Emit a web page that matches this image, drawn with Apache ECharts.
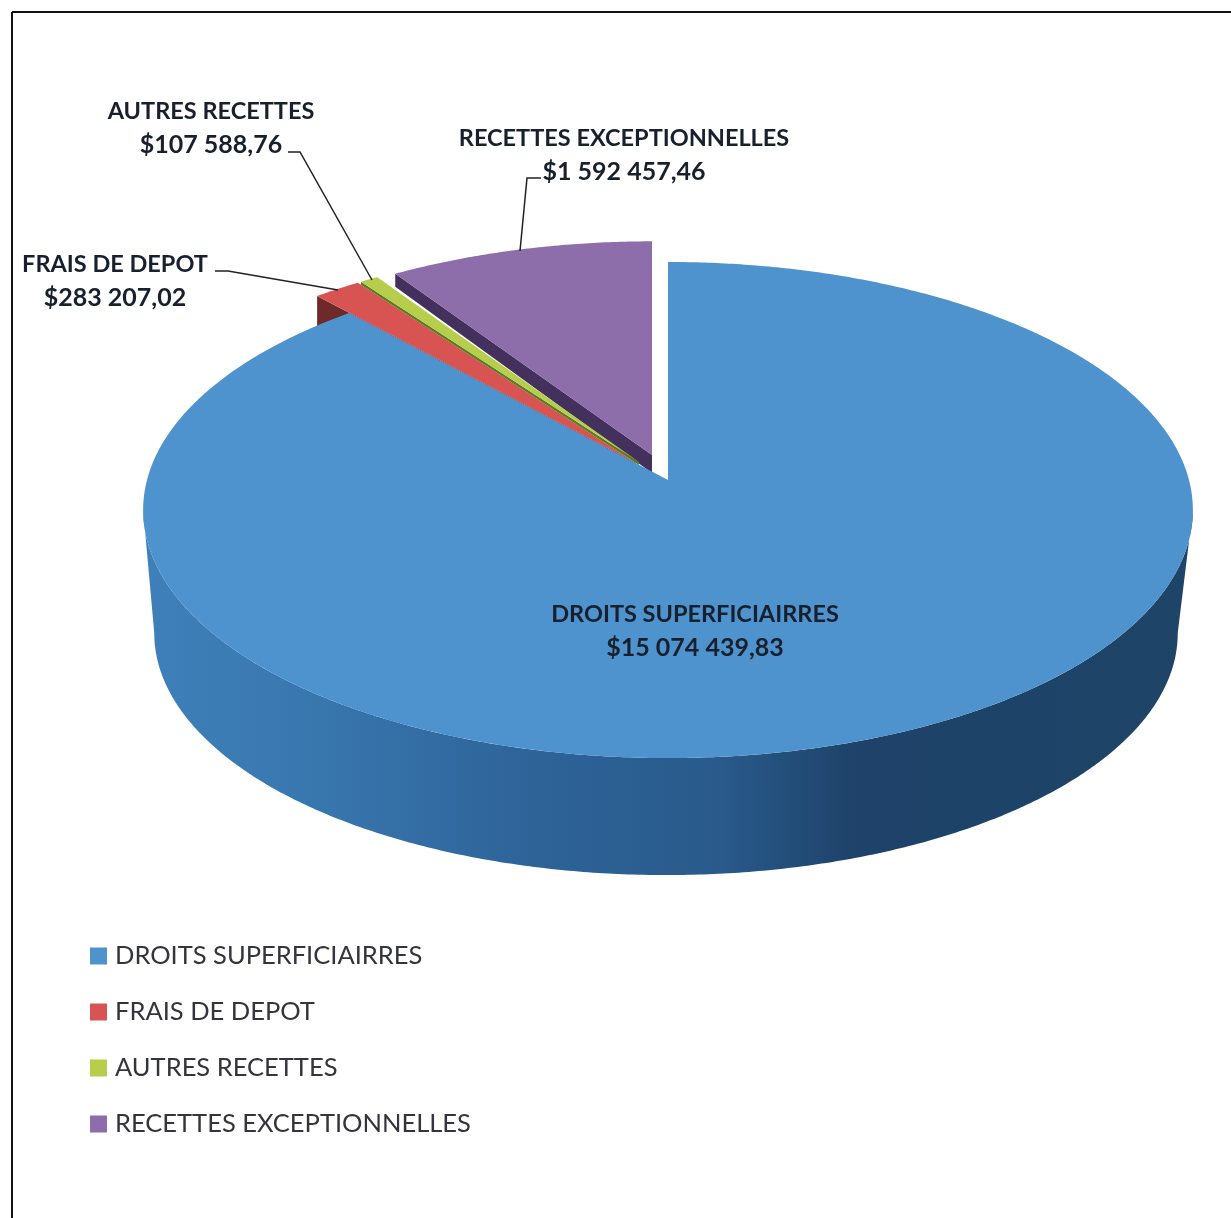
<!DOCTYPE html>
<html>
<head>
<meta charset="utf-8">
<style>html,body{margin:0;padding:0;background:#fff}#c{width:1231px;height:1218px}</style>
<script src="https://cdn.jsdelivr.net/npm/echarts@6/dist/echarts.min.js"></script>
</head>
<body>
<div id="c"></div>
<script>
// ---- data ----
const categories = ['DROITS SUPERFICIAIRRES', 'FRAIS DE DEPOT', 'AUTRES RECETTES', 'RECETTES EXCEPTIONNELLES'];
const amounts = [15074439.83, 283207.02, 107588.76, 1592457.46];
// ---- styles ----
const topColors = ['#4e92ce', '#d85452', '#b6ce4c', '#8e6dab'];
const wallColors = [null, '#6e2a29', '#5f7a25', '#44305c'];
const drawOrder = [4, 2, 3, 1];
const explodeX = [0, -32, -29, -16];
const explodeY = [0, -17, -18, -25];
const sliceScale = [1, 1, 1, 0.98];
const wallNear = [0, 42, 3, 18];
const wallFar = [0, 42, 3, 13];
const labelX = [695, 115, 211, 624];
const labelY = [614, 264, 111, 138];
const leaders = [null, [[215, 271], [228, 271], [338, 290]], [[288, 152], [300, 152], [372, 280]], [[541, 178], [527, 178], [520, 251]]];
const blueWallStops = [
  { offset: 0, color: '#3f80ba' }, { offset: 0.17, color: '#3876ae' }, { offset: 0.36, color: '#2e6499' },
  { offset: 0.55, color: '#295a8b' }, { offset: 0.68, color: '#1e4269' }, { offset: 1, color: '#1e4467' }
];

// pie geometry: a perspective-projected disc
const cx = 668, cy = 480, a = 521, b = 244.4, k = 0.121;
const wallDrop = 124, wallScale = 0.975, wallShift = -2;
const labelFont = 'Lato';

const total = amounts.reduce((s, v) => s + v, 0);
function pt(deg, ox, oy, s, dy) {
  const t = deg * Math.PI / 180, u = Math.sin(t), v = -Math.cos(t), d = 1 - k * v;
  return [cx + ox + s * a * u / d, cy + oy + dy + s * b * v / d];
}
function money(v) {
  const p = v.toFixed(2).split('.');
  return '$' + p[0].replace(/\B(?=(\d{3})+$)/g, ' ') + ',' + p[1];
}
function arc(from, to, ox, oy, s, dy) {
  const n = Math.max(2, Math.ceil(Math.abs(to - from) * 2)), out = [];
  for (let i = 0; i <= n; i++) out.push(pt(from + (to - from) * i / n, ox, oy, s, dy));
  return out;
}
function makeRender(i) {
  const before = amounts.slice(0, i).reduce((s, v) => s + v, 0);
  return function (params, api) {
    const value = api.value(0);
    const start = before / total * 360, end = (before + value) / total * 360;
    const ox = explodeX[i], oy = explodeY[i], sc = sliceScale[i], kids = [];
    if (i === 0) {
      const wTop = arc(96.9, 263.1, 0, 0, 1, 0);
      const wBot = arc(263.1, 96.9, wallShift, 0, wallScale, wallDrop);
      kids.push({ type: 'polygon', shape: { points: wBot.concat(wTop) },
        style: { fill: new echarts.graphic.LinearGradient(0, 0, 1, 0, blueWallStops) } });
    } else {
      const apex = [cx + ox, cy + oy], o = pt(start, ox, oy, sc, 0);
      kids.push({ type: 'polygon', shape: { points: [apex, o, [o[0], o[1] + wallFar[i]], [apex[0], apex[1] + wallNear[i]]] },
        style: { fill: wallColors[i] } });
    }
    kids.push({ type: 'polygon', shape: { points: [[cx + ox, cy + oy]].concat(arc(start, end, ox, oy, sc, 0)) },
      style: { fill: topColors[i] } });
    if (leaders[i]) {
      kids.push({ type: 'polyline', shape: { points: leaders[i] }, style: { stroke: '#222', lineWidth: 1.5, fill: 'none' } });
    }
    [categories[i], money(value)].forEach((t, j) => kids.push({
      type: 'text', z2: 10,
      style: { text: t, x: labelX[i], y: labelY[i] + j * 33.5, align: 'center', verticalAlign: 'middle',
        fontFamily: labelFont, fontWeight: 'bold', fontSize: j ? 25 : 23.5, fill: '#17202c' }
    }));
    return { type: 'group', children: kids };
  };
}

const chart = echarts.init(document.getElementById('c'), null, { renderer: 'canvas' });
chart.setOption({
  animation: false,
  backgroundColor: '#ffffff',
  graphic: [
    { type: 'line', shape: { x1: 12, y1: 12, x2: 1231, y2: 12 }, style: { stroke: '#111', lineWidth: 2 } },
    { type: 'line', shape: { x1: 12, y1: 12, x2: 12, y2: 1218 }, style: { stroke: '#111', lineWidth: 2 } }
  ],
  legend: {
    orient: 'vertical', left: 90, top: 943, padding: 0, data: categories, icon: 'rect',
    itemWidth: 17, itemHeight: 17, itemGap: 30, selectedMode: false,
    textStyle: { fontFamily: labelFont, fontSize: 25.5, color: '#33343e', padding: [0, 0, 0, 3] }
  },
  series: categories.map((name, i) => ({
    type: 'custom', name, coordinateSystem: 'none', z: drawOrder[i],
    itemStyle: { color: topColors[i] },
    data: [[amounts[i]]],
    encode: { value: 0 },
    renderItem: makeRender(i),
    silent: true
  }))
});
</script>
</body>
</html>
